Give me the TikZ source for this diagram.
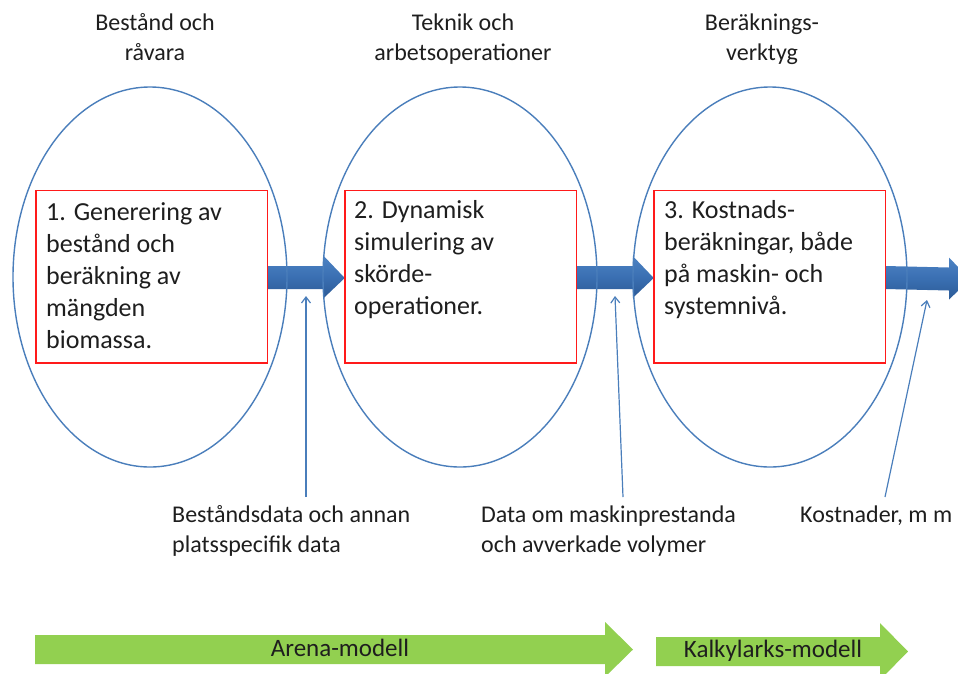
\documentclass[tikz,border=0pt]{standalone}
\usepackage{fontspec}
\setmainfont{Carlito}
\usetikzlibrary{arrows.meta,calc}
\definecolor{ellblue}{HTML}{4A7EBB}
\definecolor{arrblue}{HTML}{3A6FB2}
\definecolor{arrdark}{HTML}{2C5A96}
\definecolor{arrlight}{HTML}{4D83C4}
\definecolor{boxred}{HTML}{FF1A1A}
\definecolor{grn}{HTML}{92D050}
\definecolor{txt}{HTML}{1E1E1E}
\tikzset{
  redbox/.style={draw=boxred, line width=1.5pt, minimum width=230pt, minimum height=171pt, inner sep=0pt},
  boxtext/.style={anchor=north west, inner sep=0pt, align=left, text=txt, font=\fontsize{26}{32}\selectfont},
  titletext/.style={anchor=north, inner sep=0pt, align=center, text=txt, font=\fontsize{24}{30}\selectfont},
  labeltext/.style={anchor=north west, inner sep=0pt, align=left, text=txt, font=\fontsize{24}{30}\selectfont},
  greentext/.style={inner sep=0pt, text=txt, font=\fontsize{25}{28}\selectfont},
  thinarrow/.style={draw=ellblue, line width=1.2pt, -{Straight Barb[length=6pt,width=9pt]}},
  bigarrow/.style={top color=arrlight, bottom color=arrdark, middle color=arrblue, draw=none},
  ellline/.style={draw=ellblue, line width=1.4pt}
}
\begin{document}
\begin{tikzpicture}[x=1pt,y=-1pt]
\useasboundingbox (0,0) rectangle (958,673);
% boxes (positions)
\path (151.5,276.5) node[redbox, draw=none] (b1) {};
\path (460.5,276.5) node[redbox, draw=none] (b2) {};
\path (769.5,276.5) node[redbox, draw=none] (b3) {};
\coordinate (end) at (970,278);
% big blue arrows (under ellipses)
\foreach \a/\b in {b1/b2,b2/b3,b3/end}{
  \shade[bigarrow]
    ($(\a.east)+(0,-10.5)$) -- ($(\b.west)+(-21,-10.5)$) -- ($(\b.west)+(-21,-20.5)$)
    -- ($(\b.west)+(0,1.5)$) -- ($(\b.west)+(-21,21.5)$) -- ($(\b.west)+(-21,12.5)$)
    -- ($(\a.east)+(0,12.5)$) -- cycle;
}
% ellipses
\draw[ellline] (150,277) ellipse [x radius=137, y radius=190];
\draw[ellline] (460,277) ellipse [x radius=137, y radius=190];
\draw[ellline] (770,277) ellipse [x radius=137, y radius=190];
% red boxes drawn
\draw[boxred, line width=1.5pt] (b1.north west) rectangle (b1.south east);
\draw[boxred, line width=1.5pt] (b2.north west) rectangle (b2.south east);
\draw[boxred, line width=1.5pt] (b3.north west) rectangle (b3.south east);
% box texts
\node[boxtext] (t1) at (46,198) {\strut 1. Generering av\\bestånd och\\beräkning av\\mängden\\biomassa.};
\node[boxtext] (t2) at (354,196) {\strut 2. Dynamisk\\simulering av\\skörde-\\operationer.};
\node[boxtext] (t3) at (664,196) {\strut 3. Kostnads-\\beräkningar, både\\på maskin- och\\systemnivå.};
% titles
\node[titletext] (h1) at (155,9) {\strut Bestånd och\\råvara};
\node[titletext] (h2) at (463,9) {\strut Teknik och\\arbetsoperationer};
\node[titletext] (h3) at (762,9) {\strut Beräknings-\\verktyg};
% thin arrows
\coordinate (s1) at (306,497); \coordinate (e1) at (306,296);
\coordinate (s2) at (623,497); \coordinate (e2) at (615,296);
\coordinate (s3) at (885,497); \coordinate (e3) at (927,300);
\draw[thinarrow] (s1) -- (e1);
\draw[thinarrow] (s2) -- (e2);
\draw[thinarrow] (s3) -- (e3);
% labels
\node[labeltext] (l1) at (172,501) {\strut Beståndsdata och annan\\platsspecifik data};
\node[labeltext] (l2) at (481,501) {\strut Data om maskinprestanda\\och avverkade volymer};
\node[labeltext] (l3) at (800,501) {\strut Kostnader, m m};
% green arrows
\fill[grn] (35,635) -- (605,635) -- (605,622) -- (633,649.5) -- (605,677) -- (605,664) -- (35,664) -- cycle;
\fill[grn] (656,637) -- (880,637) -- (880,623) -- (908,651.5) -- (880,680) -- (880,666) -- (656,666) -- cycle;
\node[greentext] (g1) at (340,648) {Arena-modell};
\node[greentext] (g2) at (773,651) {Kalkylarks-modell};
\end{tikzpicture}
\end{document}
